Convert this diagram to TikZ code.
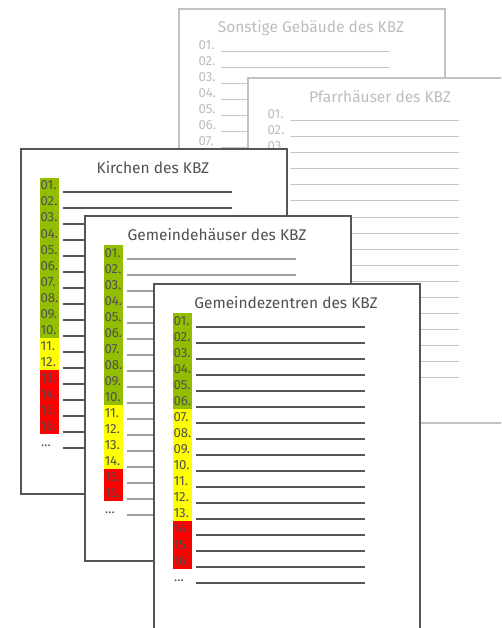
\documentclass[tikz,border=0pt]{standalone}
\usepackage{fontspec}
\setmainfont{Fira Sans}
\definecolor{cFborder}{HTML}{C2C2C2}
\definecolor{cDborder}{HTML}{555555}
\definecolor{cFtext}{HTML}{BDBDBD}
\definecolor{cDtext}{HTML}{505050}
\definecolor{cFrule}{HTML}{C6C6C6}
\definecolor{cDrule}{HTML}{555555}
\definecolor{cMrule}{HTML}{9C9C9C}
\definecolor{cGreen}{HTML}{93BD00}
\definecolor{cYel}{HTML}{FFFF00}
\definecolor{cRed}{HTML}{FF0000}
\tikzset{
  sheetbase/.style={rectangle, inner sep=0pt, minimum width=266pt, minimum height=345pt, fill=white, line width=1.8pt},
  fsheet/.style={sheetbase, draw=cFborder},
  dsheet/.style={sheetbase, draw=cDborder},
  ftitle/.style={text=cFtext, inner sep=0pt, font=\fontsize{15.5}{18}\selectfont},
  dtitle/.style={text=cDtext, inner sep=0pt, font=\fontsize{15.5}{18}\selectfont},
  flab/.style={text=cFtext, inner sep=0pt, anchor=base west, font=\fontsize{13.2}{15}\selectfont},
  dlab/.style={text=cDtext, inner sep=0pt, anchor=base west, font=\fontsize{13.2}{15}\selectfont},
  frule/.style={draw=cFrule, line width=1pt},
  drule/.style={draw=cDrule, line width=1.2pt},
  mrule/.style={draw=cMrule, line width=1.2pt},
}
% \nlab: number of labelled rows drawn (the rest lie hidden under later sheets)
\def\nlab{17}
% #1 name, #2 left, #3 top, #4 title, #5 last green, #6 last yellow (0/0: no colour boxes), #7 prefix f/d, #8 rule style, #9 extra sheet options
\newcommand\drawsheet[9]{%
  \node[#7sheet, anchor=north west, #9] (#1) at (#2,#3) {};
  \node[#7title] (#1-title) at (#2+133,#3+20) {#4};
  \foreach \i in {1,...,17}{%
    \pgfmathsetmacro\ly{#3+44+16*(\i-1)}%
    \ifnum#5>0\relax
      \ifnum\i<17\relax
        \ifnum\i>#6\relax\def\bc{cRed}\else\ifnum\i>#5\relax\def\bc{cYel}\else\def\bc{cGreen}\fi\fi
        \fill[\bc] (#2+20,\ly-14) rectangle (#2+39,\ly+2);
      \fi
    \fi
    \ifnum\i>\nlab\relax\else
      \ifnum\i<17\relax
        \node[#7lab] (#1-l\i) at (#2+20.3,\ly-2) {\ifnum\i<10 0\fi\i.};
      \else
        \node[#7lab] (#1-l\i) at (#2+21,\ly-2) {...};
      \fi
    \fi
    \coordinate (#1-a\i) at (#2+43,\ly);
    \coordinate (#1-b\i) at (#2+212,\ly);
    \draw[#8] (#1-a\i) -- (#1-b\i);
  }%
}
\begin{document}
\begin{tikzpicture}[x=1pt,y=-1pt]
  \useasboundingbox (0,0) rectangle (501,628);
  \clip (0,0) rectangle (501,628);
  \fill[white] (0,0) rectangle (501,628);
  \def\nlab{7}
  \drawsheet{sonst}{178}{8}{Sonstige Gebäude des KBZ}{0}{0}{f}{frule}{}
  \def\nlab{3}
  \drawsheet{pfarr}{247}{77}{Pfarrhäuser des KBZ}{0}{0}{f}{frule}{}
  \def\nlab{17}
  \drawsheet{kirch}{20}{148}{Kirchen des KBZ}{10}{12}{d}{drule}{}
  \drawsheet{gemh}{84}{215}{Gemeindehäuser des KBZ}{10}{14}{d}{mrule}{}
  \drawsheet{gemz}{153}{283}{Gemeindezentren des KBZ}{6}{13}{d}{drule}{minimum height=370pt}
\end{tikzpicture}
\end{document}
